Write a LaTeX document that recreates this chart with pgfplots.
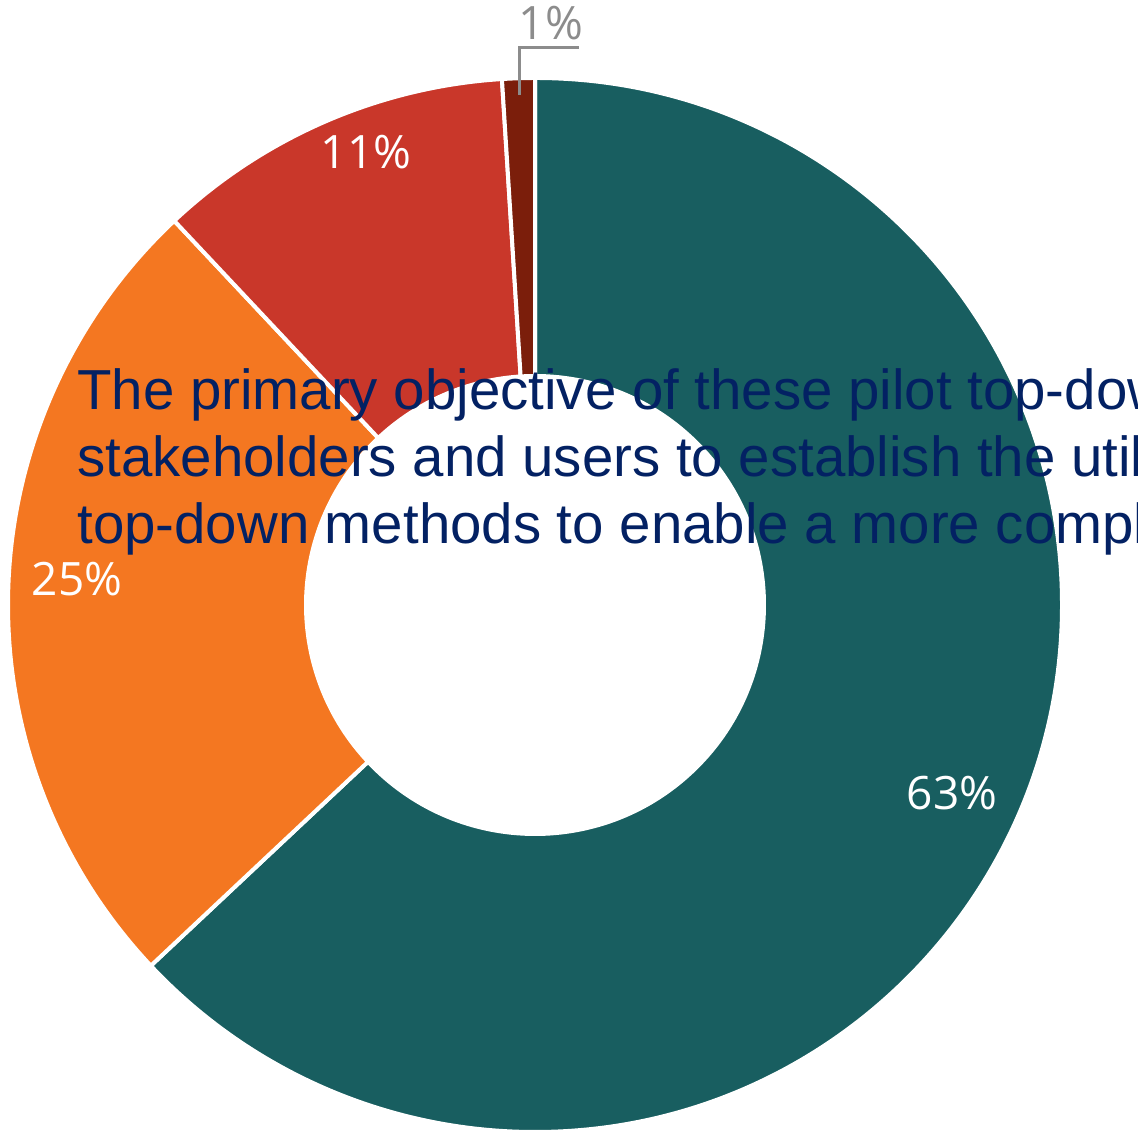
\documentclass[border=0pt]{standalone}
\usepackage{pgfplots}
\pgfplotsset{compat=1.18}
\usepackage{fontspec}
\setmainfont{Liberation Sans}
\newfontfamily\osans{Open Sans}
\definecolor{cA}{HTML}{185E60}
\definecolor{cB}{HTML}{F47721}
\definecolor{cC}{HTML}{C9372A}
\definecolor{cD}{HTML}{7B1E0B}
\definecolor{navy}{HTML}{032163}
\definecolor{lblgrey}{HTML}{8C8C8C}
% donut slice from cumulative percent #1 to #2 in colour #3
\newcommand{\donutslice}[3]{%
  \pgfmathsetmacro\sliceA{90-3.6*#1}%
  \pgfmathsetmacro\sliceB{90-3.6*#2}%
  \pgfmathsetmacro\sliceBB{\sliceB+180}%
  \edef\slicetemp{\noexpand\fill[#3, draw=white, line width=2pt] (axis cs:535,533) ++(\sliceA:263.5pt) arc[start angle=\sliceA, end angle=\sliceB, radius=263.5pt] -- ++(\sliceBB:149pt) arc[start angle=\sliceB, end angle=\sliceA, radius=114.5pt] -- cycle;}%
  \slicetemp
}
\begin{document}
\begin{tikzpicture}
\begin{axis}[
  at={(0,0)}, anchor=south west,
  x=0.5pt, y=0.5pt,
  xmin=0, xmax=1138, ymin=0, ymax=1138,
  enlargelimits=false, hide axis, clip=false,
]
% values: 63, 25, 11, 1 (percent)
\donutslice{0}{63}{cA}
\donutslice{63}{88}{cB}
\donutslice{88}{99}{cC}
\donutslice{99}{100}{cD}
% percentage labels
\node[text=white, font=\osans\fontsize{23pt}{27pt}\selectfont] at (axis cs:952,345) {63\%};
\node[text=white, font=\osans\fontsize{23pt}{27pt}\selectfont] at (axis cs:77,559) {25\%};
\node[text=white, font=\osans\fontsize{23pt}{27pt}\selectfont] at (axis cs:366,986) {11\%};
\draw[lblgrey, line width=1.5pt] (axis cs:519,1043) -- (axis cs:519,1090) -- (axis cs:579,1090);
\node[text=lblgrey, font=\osans\fontsize{23pt}{27pt}\selectfont] at (axis cs:551,1115) {1\%};
% overlaid text
\node[anchor=base west, inner sep=0pt, text=navy, font=\fontsize{28.2pt}{33.5pt}\selectfont] at (axis cs:77,728) {The primary objective of these pilot top-down studies is to engage with};
\node[anchor=base west, inner sep=0pt, text=navy, font=\fontsize{28.2pt}{33.5pt}\selectfont] at (axis cs:77,661) {stakeholders and users to establish the utility of combining bottom-up and};
\node[anchor=base west, inner sep=0pt, text=navy, font=\fontsize{28.2pt}{33.5pt}\selectfont] at (axis cs:77,594) {top-down methods to enable a more complete picture of emissions.};
\end{axis}
\pgfresetboundingbox
\path[use as bounding box] (0,0) rectangle (569pt,569pt);
\end{tikzpicture}
\end{document}
